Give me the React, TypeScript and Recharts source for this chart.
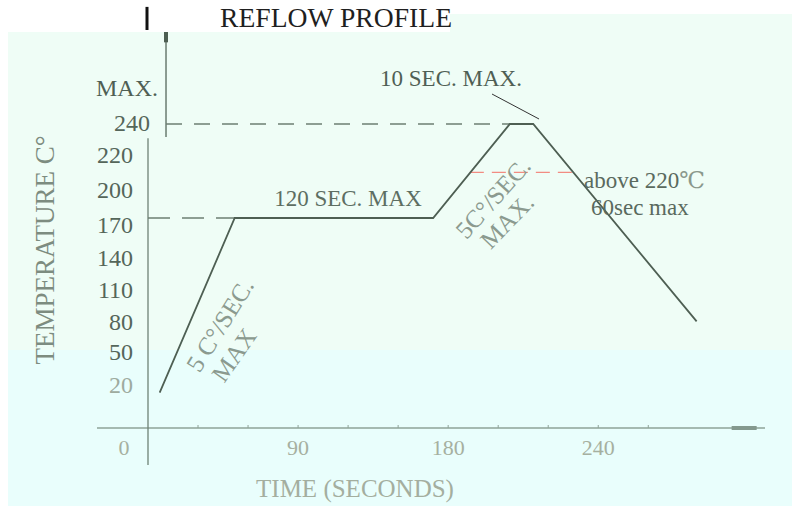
import React from "react";
import { LineChart, Line, XAxis, YAxis, ReferenceLine } from "recharts";

// profile (time in seconds along the drawn axis, temperature in °C)
const times = [7, 52, 171, 217, 231, 329];
const temps = [40, 170, 170, 240, 240, 93];

// x axis ticks (small marks every 30 s) and printed labels
const xTickValues = [0, 30, 60, 90, 120, 150, 180, 210, 240, 270, 300];
const xLabelValues = [0, 90, 180, 270];
const xLabelTexts = ["0", "90", "180", "240"];

// y axis printed labels and where they sit on the temperature scale
const yTickPositions = [240.8, 216.9, 190.9, 164.8, 140.2, 116.5, 92.6, 70.3, 45.7];
const yTickLabels = ["240", "220", "200", "170", "140", "110", "80", "50", "20"];

// reference levels
const soakTemp = 170;
const peakTemp = 240;
const redLineTemp = 204;
const rampTopTime = 52;
const peakStartTime = 217;
const redStartTime = 193;
const redEndTime = 255;

const data = times.map((t, i) => ({ t, temp: temps[i] }));

const X_DOMAIN: [number, number] = [0, 370];
const Y_DOMAIN: [number, number] = [13.6, 308.5];

const SERIF = "'Liberation Serif', 'DejaVu Serif', serif";

const XTick = (props: any) => {
  const { x, y, payload } = props;
  const v = payload.value;
  const idx = xLabelValues.indexOf(v);
  return (
    <g>
      {v !== 0 && <line x1={x} x2={x} y1={y - 3} y2={y} stroke="#8ea398" strokeWidth={1} />}
      {idx >= 0 && (
        <text
          x={v === 0 ? x - 24 : x}
          y={y + 19}
          textAnchor="middle"
          dominantBaseline="central"
          fontFamily={SERIF}
          fontSize={22}
          fill="#a6b0a0"
        >
          {xLabelTexts[idx]}
        </text>
      )}
    </g>
  );
};

const YTick = (props: any) => {
  const { x, y, payload } = props;
  const idx = yTickPositions.indexOf(payload.value);
  if (idx < 0) return <g />;
  const label = yTickLabels[idx];
  const light = label === "20";
  return (
    <text
      x={label === "240" ? x + 2 : x - 15}
      y={y}
      textAnchor="end"
      dominantBaseline="central"
      fontFamily={SERIF}
      fontSize={24}
      fill={light ? "#9eab9f" : "#55665a"}
    >
      {label}
    </text>
  );
};

export default function App() {
  return (
    <div style={{ position: "absolute", left: 0, top: 0, width: 792, height: 506, background: "#ffffff", overflow: "hidden" }}>
      <div style={{ position: "absolute", left: 8, top: 32, width: 784, height: 318, background: "#effdf6" }} />
      <div style={{ position: "absolute", left: 450, top: 14, width: 342, height: 20, background: "#effdf6" }} />
      <div style={{ position: "absolute", left: 8, top: 350, width: 784, height: 156, background: "#e9fefc" }} />
      <div style={{ position: "absolute", left: 0, top: 0 }}>
        <LineChart width={792} height={506} data={data} margin={{ top: 32, right: 27, bottom: 48, left: 88 }}>
          <XAxis
            type="number"
            dataKey="t"
            domain={X_DOMAIN}
            ticks={xTickValues}
            interval={0}
            axisLine={false}
            tickLine={false}
            tickSize={0}
            tickMargin={0}
            height={30}
            tick={<XTick />}
          />
          <YAxis
            type="number"
            domain={Y_DOMAIN}
            ticks={yTickPositions}
            interval={0}
            axisLine={false}
            tickLine={false}
            tickSize={0}
            tickMargin={0}
            width={60}
            tick={<YTick />}
            allowDataOverflow
          />
          {/* axes */}
          <ReferenceLine segment={[{ x: -30.6, y: 13.6 }, { x: 370, y: 13.6 }]} stroke="#8ea398" strokeWidth={1.5} ifOverflow="visible" />
          <ReferenceLine segment={[{ x: 350, y: 13.6 }, { x: 365, y: 13.6 }]} stroke="#84998e" strokeWidth={4} ifOverflow="visible" />
          <ReferenceLine segment={[{ x: 0, y: 229.4 }, { x: 0, y: -13.9 }]} stroke="#6f8276" strokeWidth={1.3} ifOverflow="visible" />
          <ReferenceLine segment={[{ x: 10.8, y: 230.3 }, { x: 10.8, y: 308.5 }]} stroke="#55685b" strokeWidth={1.3} ifOverflow="visible" />
          <ReferenceLine segment={[{ x: 10.8, y: 300.8 }, { x: 10.8, y: 308.5 }]} stroke="#4d5e52" strokeWidth={4} ifOverflow="visible" />
          <ReferenceLine segment={[{ x: -0.6, y: 310 }, { x: -0.6, y: 327.2 }]} stroke="#111111" strokeWidth={3} ifOverflow="visible" />
          {/* dashed levels */}
          <ReferenceLine segment={[{ x: 10.8, y: peakTemp }, { x: peakStartTime, y: peakTemp }]} stroke="#6e7f73" strokeWidth={1.3} strokeDasharray="16 12" ifOverflow="visible" />
          <ReferenceLine segment={[{ x: 0, y: soakTemp }, { x: rampTopTime, y: soakTemp }]} stroke="#6e7f73" strokeWidth={1.3} strokeDasharray="22 12" ifOverflow="visible" />
          <ReferenceLine segment={[{ x: redStartTime, y: redLineTemp }, { x: redEndTime, y: redLineTemp }]} stroke="#f28c82" strokeWidth={1.3} strokeDasharray="14 8" ifOverflow="visible" />
          {/* leader for 10 SEC. MAX. */}
          <ReferenceLine segment={[{ x: 206.3, y: 262.3 }, { x: 234.5, y: 243.7 }]} stroke="#333333" strokeWidth={1} ifOverflow="visible" />
          <Line type="linear" dataKey="temp" stroke="#4e5f53" strokeWidth={1.8} dot={false} isAnimationActive={false} />
        </LineChart>
      </div>
      <svg width={792} height={506} style={{ position: "absolute", left: 0, top: 0, pointerEvents: "none" }}>
        <text x={220} y={27} fontFamily={SERIF} fontSize={28} fill="#1f1f1f" textLength={232} lengthAdjust="spacingAndGlyphs">REFLOW PROFILE</text>
        <text x={127} y={88} textAnchor="middle" dominantBaseline="central" fontFamily={SERIF} fontSize={24} fill="#4f5f54">MAX.</text>
        <text x={451} y={78} textAnchor="middle" dominantBaseline="central" fontFamily={SERIF} fontSize={23} fill="#4f5f54">10 SEC. MAX.</text>
        <text x={348} y={198} textAnchor="middle" dominantBaseline="central" fontFamily={SERIF} fontSize={23} fill="#5d6e62">120 SEC. MAX</text>
        <text x={584} y={180} dominantBaseline="central" fontFamily={SERIF} fontSize={23} fill="#5a6a5e">above 220<tspan fill="#8a988c">℃</tspan></text>
        <text x={591} y={207} dominantBaseline="central" fontFamily={SERIF} fontSize={23} fill="#5a6a5e">60sec max</text>
        <text transform="translate(45,250) rotate(-90)" textAnchor="middle" dominantBaseline="central" fontFamily={SERIF} fontSize={27} fill="#7d8c80">TEMPERATURE  C°</text>
        <text x={355} y={488} textAnchor="middle" dominantBaseline="central" fontFamily={SERIF} fontSize={25} fill="#a4ae9f">TIME (SECONDS)</text>
        <text transform="translate(220,325) rotate(-58)" textAnchor="middle" dominantBaseline="central" fontFamily={SERIF} fontSize={25} fill="#8b9a8f">5 C°/SEC.</text>
        <text transform="translate(234,355) rotate(-55)" textAnchor="middle" dominantBaseline="central" fontFamily={SERIF} fontSize={25} fill="#8b9a8f">MAX</text>
        <text transform="translate(493,198) rotate(-48)" textAnchor="middle" dominantBaseline="central" fontFamily={SERIF} fontSize={25} fill="#8b9a8f">5C°/SEC.</text>
        <text transform="translate(507,221) rotate(-46)" textAnchor="middle" dominantBaseline="central" fontFamily={SERIF} fontSize={25} fill="#8b9a8f">MAX.</text>
      </svg>
    </div>
  );
}
